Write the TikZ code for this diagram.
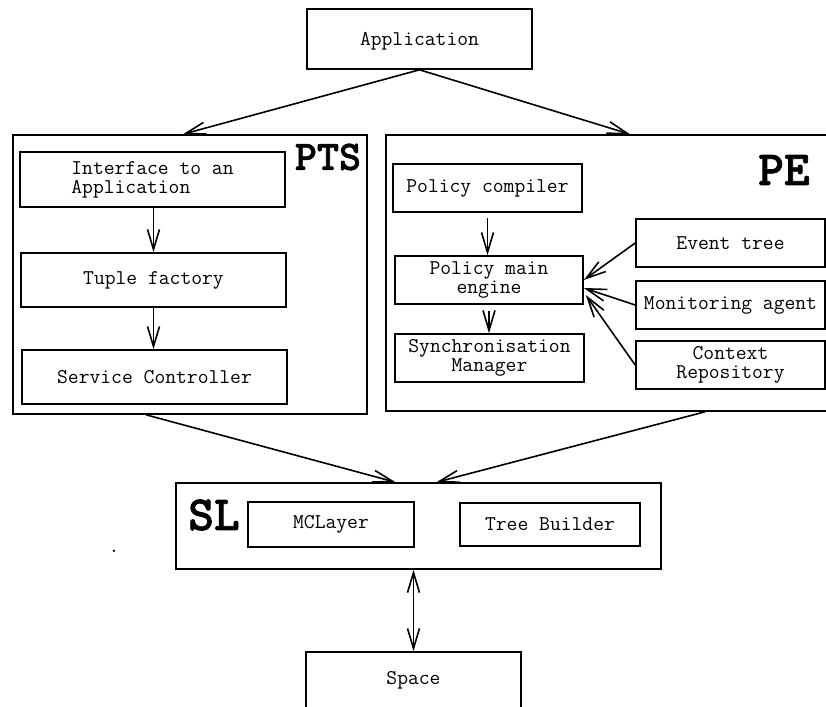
\documentclass[tikz,border=0pt]{standalone}
\usepackage{fontspec}
\newfontfamily\tagfont{lmmonolt10-bold.otf}[FakeBold=1.5]
\usetikzlibrary{arrows.meta}
\tikzset{
  box/.style={draw,line width=1.6pt,inner sep=2pt,
    font=\ttfamily\fontsize{21}{19}\selectfont},
  tag/.style={inner sep=0pt,font=\tagfont\fontsize{#1}{#1}\selectfont},
  wire/.style={line width=1.6pt,>={Straight Barb[length=20pt,width=12pt]}}
}
\begin{document}
\begin{tikzpicture}[x=1pt,y=-1pt]
      \useasboundingbox (0,0) rectangle (826,706);
      % containers
      \draw
        (190,274.5) node[box,minimum width=354pt,minimum height=279pt] (pts){}
        (613,273) node[box,minimum width=454pt,minimum height=276pt] (pe){}
        (418.5,526) node[box,minimum width=485pt,minimum height=86pt] (sl){};
      \draw
        (328,157) node[tag=42] (ptstag){PTS}
        (784,170) node[tag=49] (petag){PE}
        (214,515) node[tag=49] (sltag){SL}
        (114,551) node[inner sep=0pt,font=\ttfamily\fontsize{21}{19}\selectfont] (dot){.};
      % blocks
      \draw
        (419.5,39) node[box,minimum width=225pt,minimum height=60pt,text depth=-3pt] (app){Application}
        (152.5,179.5) node[box,minimum width=265pt,minimum height=55pt,align=left] (iface){Interface to an\\Application}
        (153.5,280) node[box,minimum width=265pt,minimum height=54pt] (tuple){Tuple factory}
        (154.5,377) node[box,minimum width=265pt,minimum height=54pt] (ctrl){Service Controller}
        (487.5,188) node[box,minimum width=189pt,minimum height=48pt] (compiler){Policy compiler}
        (489,280) node[box,minimum width=188pt,minimum height=48pt,align=center] (engine){Policy main\\engine}
        (489.5,358) node[box,minimum width=189pt,minimum height=48pt,align=center] (sync){Synchronisation\\Manager}
        (730.5,243) node[box,minimum width=189pt,minimum height=48pt] (events){Event tree}
        (730.5,305) node[box,minimum width=189pt,minimum height=48pt] (monitor){Monitoring agent}
        (730.5,365) node[box,minimum width=189pt,minimum height=48pt,align=center] (context){Context\\Repository}
        (331,524.5) node[box,minimum width=166pt,minimum height=45pt] (mclayer){MCLayer}
        (550,524.5) node[box,minimum width=180pt,minimum height=43pt] (builder){Tree Builder}
        (413.5,680) node[box,minimum width=215pt,minimum height=56pt] (space){Space};
      \begin{scope}[wire,->]
        \draw (app.south) to ([xshift=-7pt]pts.north);
        \draw (app.south) to ([xshift=17pt]pe.north);
        \draw (iface.south -| tuple.north) to (tuple.north);
        \draw (tuple.south) to (ctrl.north -| tuple.south);
        \draw ([yshift=-5pt]compiler.south) to (compiler.south |- engine.north);
        \draw ([yshift=-6pt]engine.south) to (engine.south |- sync.north);
        \draw (events.west) to (engine.east);
        \draw (monitor.west) to ([yshift=-8pt]engine.east);
        \draw (context.west) to ([xshift=2pt,yshift=-15pt]engine.east);
        \draw ([xshift=-44pt]pts.south) to ([xshift=-23pt]sl.north);
        \draw ([xshift=92pt]pe.south) to ([xshift=18pt]sl.north);
        \draw[<->] (space.north |- sl.south) to (space.north);
      \end{scope}
    \end{tikzpicture}
\end{document}
